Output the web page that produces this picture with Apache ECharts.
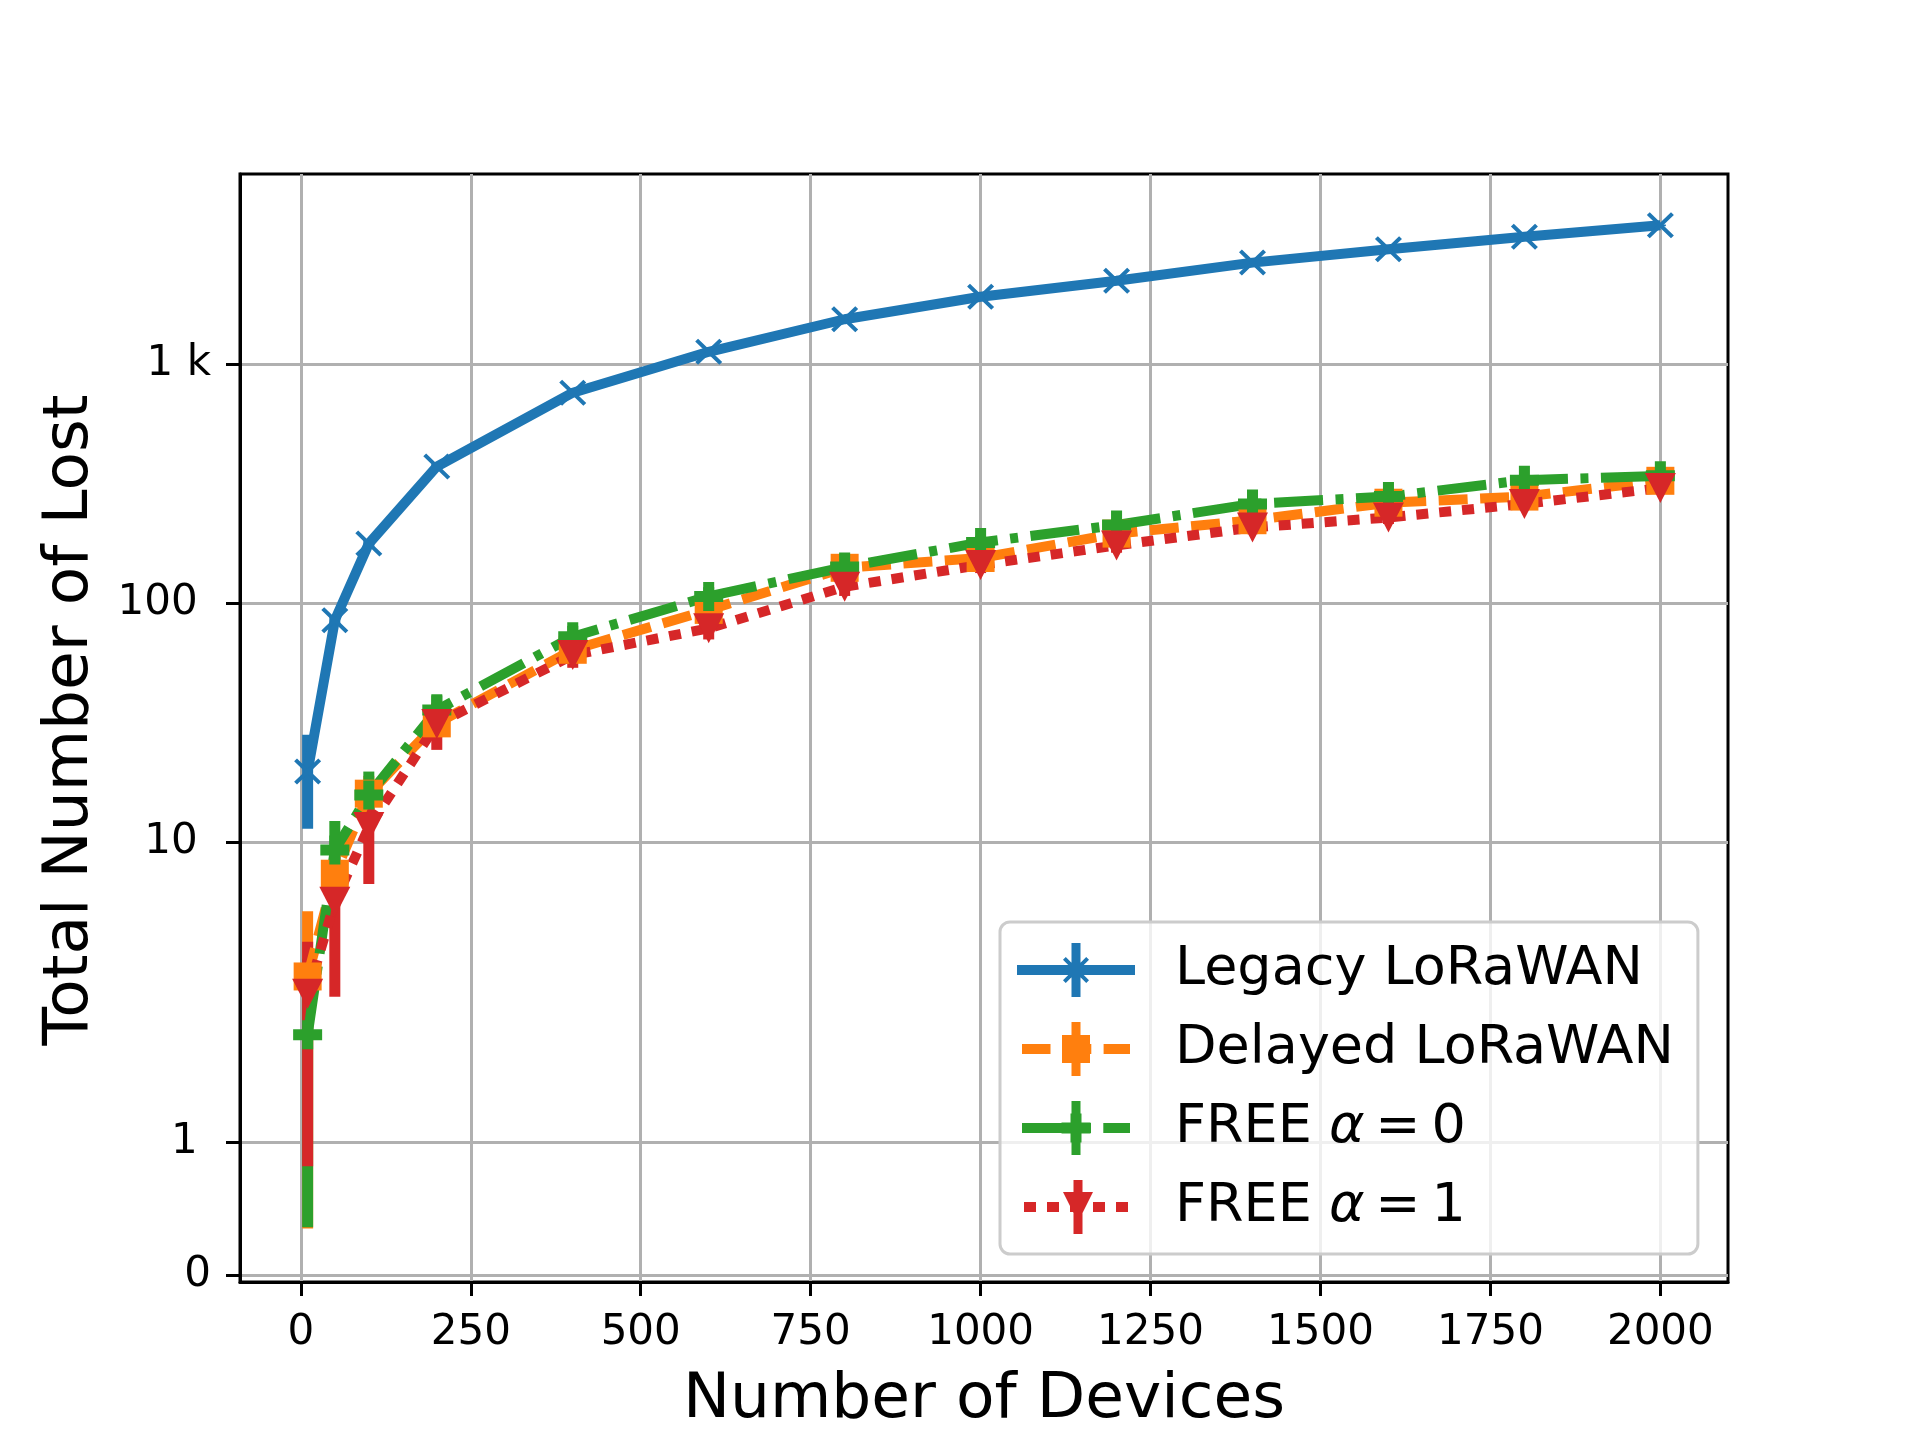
<!DOCTYPE html>
<html>
<head>
<meta charset="utf-8">
<script src="https://cdn.jsdelivr.net/npm/echarts@6/dist/echarts.min.js"></script>
<style>
  html, body { margin: 0; padding: 0; background: #fff; }
  #chart { width: 1920px; height: 1440px; }
</style>
</head>
<body>
<div id="chart"></div>
<script>
// number of devices
const devices = [10, 50, 100, 200, 400, 600, 800, 1000, 1200, 1400, 1600, 1800, 2000];

const legacyMean = [19.8, 85, 178, 374, 762, 1130, 1546, 1920, 2240, 2668, 3034, 3420, 3820];
const legacyErr = [8.4, 4, 7, 10, 14, 16, 18, 20, 22, 24, 26, 28, 30];
const delayedMean = [2.75, 7.4, 16, 31.5, 64, 94, 141, 155, 196, 223, 264, 280, 326];
const delayedErr = [2.4, 2, 3, 4, 6, 8, 10, 11, 12, 13, 14, 15, 16];
const free0Mean = [1.81, 9.3, 15.8, 35.8, 72.6, 107, 142, 180, 213, 261, 280, 328, 342];
const free0Err = [1.45, 3.0, 4.0, 5.9, 8, 10, 11, 12, 13, 14, 15, 16, 17];
const free1Mean = [2.33, 5.65, 11.6, 31.3, 60.8, 78.7, 117.5, 145, 175, 208, 229, 261, 304];
const free1Err = [1.51, 3.39, 4.9, 6.9, 7, 8, 10, 11, 12, 13, 14, 15, 16];

const xTicks = [0, 250, 500, 750, 1000, 1250, 1500, 1750, 2000];
const yTicks = [0, 1, 10, 100, 1000];
const yTickLabels = ['0', '1 ', '10 ', '100 ', '1 k'];

const seriesNames = ['Legacy LoRaWAN', 'Delayed LoRaWAN', 'FREE α = 0', 'FREE α = 1'];
const colors = ['#1f77b4', '#ff7f0e', '#2ca02c', '#d62728'];

// matplotlib symlog, linthresh 2, linscale 1
const LINTHRESH = 2;
const LINADJ = 1 / (1 - 1 / 10);
function symlog(v) {
  const a = Math.abs(v), s = v < 0 ? -1 : 1;
  if (a <= LINTHRESH) return s * a * LINADJ / LINTHRESH;
  return s * (LINADJ + Math.log10(a / LINTHRESH));
}

const FONT = 'DejaVu Sans';

const xMarkPath = 'path://M0 10.6L10.6 0L50 39.4L89.4 0L100 10.6L60.6 50L100 89.4L89.4 100L50 60.6L10.6 100L0 89.4L39.4 50Z';
const plusPath = 'path://M31 0H69V31H100V69H69V100H31V69H0V31H31Z';
const triDownPath = 'path://M0 0L100 0L50 100Z';

// legend handles: line pattern + error bar + marker, all filled
function rect(x, y, w, h) { return 'M' + x + ' ' + y + 'h' + w + 'v' + h + 'h' + (-w) + 'Z'; }
const errBarIcon = rect(54.5, 0, 9, 54);
const legendIcons = [
  'path://' + rect(0, 22, 118, 10) + errBarIcon +
    'M46 16.76L48.76 14L59 24.24L69.24 14L72 16.76L61.76 27L72 37.24L69.24 40L59 29.76L48.76 40L46 37.24L56.24 27Z',
  'path://' + rect(5, 22, 28.5, 10) + rect(45.8, 22, 28.5, 10) + rect(86.6, 22, 26.4, 10) + errBarIcon + rect(45, 13, 28, 28),
  'path://' + rect(5, 22, 49, 10) + rect(66.3, 22, 7.7, 10) + rect(86.3, 22, 26.7, 10) + errBarIcon +
    rect(44.5, 21.5, 29, 11) + rect(53.5, 12.5, 11, 29),
  'path://' + rect(5, 22, 12, 10) + rect(28, 22, 12, 10) + rect(51, 22, 12, 10) + rect(74, 22, 12, 10) +
    rect(97, 22, 12, 10) + errBarIcon + 'M44 12L74 12L59 42Z'
];

const means = [legacyMean, delayedMean, free0Mean, free1Mean];
const errs = [legacyErr, delayedErr, free0Err, free1Err];
const symbols = [xMarkPath, 'rect', plusPath, triDownPath];
const symbolSizes = [[27, 26], 28, 29, [31, 30]];
const dashes = ['solid', [29, 12.5], [49, 12.5, 8, 12.5], [12, 11]];

function errorBar(params, api) {
  const x = api.value(0);
  const lo = api.coord([x, api.value(1)]);
  const hi = api.coord([x, api.value(2)]);
  return {
    type: 'line',
    shape: { x1: lo[0], y1: lo[1], x2: hi[0], y2: hi[1] },
    style: { stroke: api.visual('color'), lineWidth: 11, lineCap: 'butt' }
  };
}

const series = [];
// error bars sit under every line, like matplotlib's default zorder
means.forEach((m, i) => {
  series.push({
    type: 'custom',
    name: seriesNames[i] + ' err',
    z: 2,
    renderItem: errorBar,
    itemStyle: { color: colors[i] },
    encode: { x: 0, y: [1, 2] },
    data: devices.map((d, k) => [d, symlog(m[k] - errs[i][k]), symlog(m[k] + errs[i][k])]),
    silent: true
  });
});
means.forEach((m, i) => {
  series.push({
    type: 'line',
    name: seriesNames[i],
    z: 3,
    data: devices.map((d, k) => [d, symlog(m[k])]),
    symbol: symbols[i],
    symbolSize: symbolSizes[i],
    symbolKeepAspect: false,
    showSymbol: true,
    itemStyle: { color: colors[i], borderWidth: 0 },
    lineStyle: { color: colors[i], width: 10, type: dashes[i], cap: 'butt' },
    emphasis: { disabled: true },
    animation: false
  });
});

const chart = echarts.init(document.getElementById('chart'), null, { renderer: 'canvas' });
chart.setOption({
  backgroundColor: '#ffffff',
  animation: false,
  textStyle: { fontFamily: FONT, color: '#000' },
  grid: {
    left: 240, top: 174, width: 1488, height: 1108,
    show: true, borderColor: '#000', borderWidth: 3, backgroundColor: 'transparent'
  },
  xAxis: {
    type: 'value',
    min: -89.5,
    max: 2099.5,
    name: 'Number of Devices',
    nameLocation: 'middle',
    nameGap: 87,
    nameTextStyle: { fontSize: 63, fontFamily: FONT, color: '#000' },
    axisLine: { show: true, onZero: false, lineStyle: { color: '#000', width: 3 } },
    axisTick: { show: true, inside: false, length: 14, lineStyle: { color: '#000', width: 3 }, customValues: xTicks },
    axisLabel: {
      fontSize: 42, fontFamily: FONT, color: '#000', margin: 30, customValues: xTicks,
      formatter: v => String(v)
    },
    splitLine: { show: true, lineStyle: { color: '#b0b0b0', width: 3 } }
  },
  yAxis: {
    type: 'value',
    min: -0.029,
    max: 4.607,
    name: 'Total Number of Lost',
    nameLocation: 'middle',
    nameRotate: 90,
    nameGap: 138,
    nameTextStyle: { fontSize: 63, fontFamily: FONT, color: '#000', padding: [0, 0, 0, 16] },
    axisLine: { show: true, onZero: false, lineStyle: { color: '#000', width: 3 } },
    axisTick: { show: true, inside: false, length: 14, lineStyle: { color: '#000', width: 3 }, customValues: yTicks.map(symlog) },
    axisLabel: {
      fontSize: 42, fontFamily: FONT, color: '#000', margin: 29,
      customValues: yTicks.map(symlog),
      formatter: function (v) {
        const i = yTicks.findIndex(t => Math.abs(symlog(t) - v) < 1e-6);
        return i >= 0 ? yTickLabels[i] : '';
      }
    },
    splitLine: { show: true, lineStyle: { color: '#b0b0b0', width: 3 } }
  },
  legend: {
    orient: 'vertical',
    left: 1000,
    top: 922,
    padding: [21, 24, 20, 17],
    itemWidth: 118,
    itemHeight: 54,
    itemGap: 25,
    selectedMode: false,
    backgroundColor: 'rgba(255,255,255,0.8)',
    borderColor: '#cccccc',
    borderWidth: 3,
    borderRadius: 10,
    itemStyle: { borderWidth: 0 },
    data: seriesNames.map((n, i) => ({ name: n, icon: legendIcons[i] })),
    formatter: function (name) {
      // thin spaces around "=" like mathtext
      return '{g|}' + name.replace('α = ', '{a|α}\u2009=\u2009');
    },
    textStyle: {
      fontSize: 54, fontFamily: FONT, color: '#000', lineHeight: 54,
      rich: {
        g: { width: 35 },
        a: { fontSize: 54, fontFamily: FONT, fontStyle: 'italic', color: '#000' }
      }
    },
    z: 10
  },
  series: series
});
</script>
</body>
</html>
